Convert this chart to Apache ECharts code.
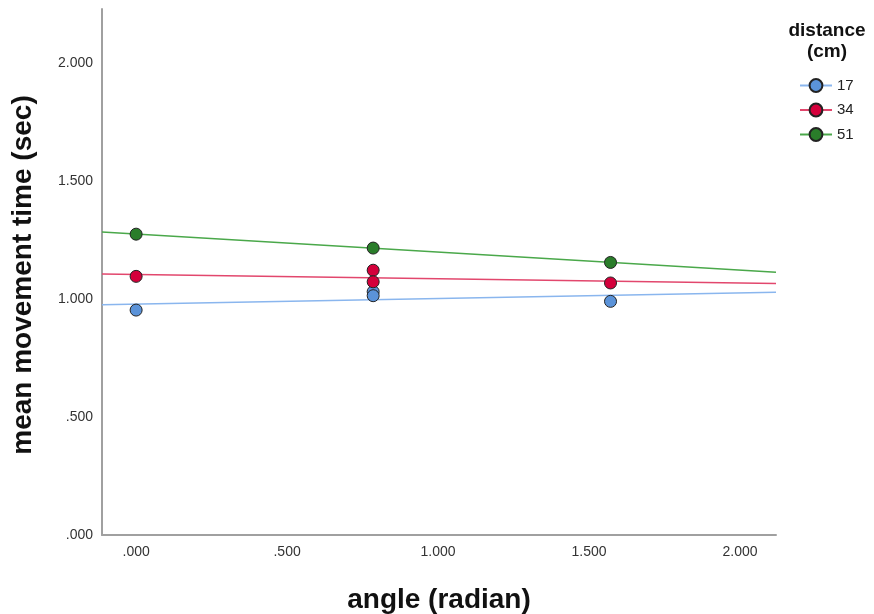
<!DOCTYPE html>
<html>
<head>
<meta charset="utf-8">
<script src="https://cdn.jsdelivr.net/npm/echarts@6/dist/echarts.min.js"></script>
<style>
  html, body { margin: 0; padding: 0; background: #fff; }
  #chart { width: 874px; height: 614px; }
</style>
</head>
<body>
<div id="chart"></div>
<script>
// Mean movement time by angle, one group per target distance
const distances = ['17', '34', '51'];
const angle17 = [0, 0.785, 0.785, 1.571];
const time17  = [0.954, 1.032, 1.015, 0.991];
const angle34 = [0, 0.785, 0.785, 1.571];
const time34  = [1.097, 1.123, 1.074, 1.069];
const angle51 = [0, 0.785, 1.571];
const time51  = [1.276, 1.217, 1.156];

const xTicks = [0, 0.5, 1.0, 1.5, 2.0];
const yTicks = [0, 0.5, 1.0, 1.5, 2.0];
const xRange = [-0.113, 2.119];
const yRange = [0, 2.231];

const pointColors = ['#5b93d9', '#d4003b', '#2a7d2a'];
const lineColors  = ['#8ab6ee', '#e2476d', '#4aa84a'];

const groups = [
  { name: distances[0], x: angle17, y: time17 },
  { name: distances[1], x: angle34, y: time34 },
  { name: distances[2], x: angle51, y: time51 }
];

// Ordinary least-squares fit line over the visible angle range
function fitLine(xs, ys) {
  const n = xs.length;
  const mx = xs.reduce((a, b) => a + b, 0) / n;
  const my = ys.reduce((a, b) => a + b, 0) / n;
  let sxy = 0, sxx = 0;
  for (let i = 0; i < n; i++) {
    sxy += (xs[i] - mx) * (ys[i] - my);
    sxx += (xs[i] - mx) * (xs[i] - mx);
  }
  const b = sxy / sxx;
  const a = my - b * mx;
  return xRange.map(x => [x, a + b * x]);
}

const fmt = v => v.toFixed(3).replace(/^0/, '');
const FONT = 'Liberation Sans, Arial, sans-serif';

const series = [];
groups.forEach((g, i) => {
  series.push({
    name: g.name,
    type: 'line',
    data: fitLine(g.x, g.y),
    symbol: 'circle',
    symbolSize: 14,
    showSymbol: false,
    silent: true,
    z: 2,
    lineStyle: { color: lineColors[i], width: 1.4 },
    itemStyle: { color: pointColors[i], borderColor: '#222', borderWidth: 1 }
  });
});
groups.forEach((g, i) => {
  series.push({
    name: g.name,
    type: 'scatter',
    data: g.x.map((x, k) => [x, g.y[k]]),
    symbol: 'circle',
    symbolSize: 12,
    z: 3,
    itemStyle: { color: pointColors[i], borderColor: '#222', borderWidth: 1, opacity: 1 }
  });
});

const chart = echarts.init(document.getElementById('chart'), null, { renderer: 'canvas' });
chart.setOption({
  animation: false,
  backgroundColor: '#ffffff',
  graphic: [{
    type: 'text',
    x: 827,
    y: 20,
    style: {
      text: 'distance\n(cm)',
      textAlign: 'center',
      fontFamily: FONT,
      fontSize: 19,
      fontWeight: 'bold',
      lineHeight: 21,
      fill: '#111'
    }
  }],
  legend: {
    data: distances,
    orient: 'vertical',
    left: 794,
    top: 73,
    itemWidth: 32,
    itemHeight: 16,
    itemGap: 9.5,
    textStyle: { fontFamily: FONT, fontSize: 15, color: '#222' }
  },
  grid: { left: 102, right: 98, top: 9, bottom: 79, containLabel: false, outerBoundsMode: 'none' },
  xAxis: {
    type: 'value',
    min: xRange[0],
    max: xRange[1],
    name: 'angle (radian)',
    nameLocation: 'middle',
    nameGap: 51,
    nameTextStyle: { fontFamily: FONT, fontSize: 28, fontWeight: 'bold', color: '#111' },
    axisLine: { show: true, onZero: false, lineStyle: { color: '#a0a0a0', width: 2 } },
    axisTick: { show: false },
    splitLine: { show: false },
    axisLabel: {
      customValues: xTicks,
      formatter: fmt,
      margin: 10,
      fontFamily: FONT,
      fontSize: 14,
      color: '#333'
    }
  },
  yAxis: {
    type: 'value',
    min: yRange[0],
    max: yRange[1],
    name: 'mean movement time (sec)',
    nameLocation: 'middle',
    nameGap: 65,
    nameTextStyle: { fontFamily: FONT, fontSize: 28, fontWeight: 'bold', color: '#111', padding: [0, 6, 0, 0] },
    axisLine: { show: true, onZero: false, lineStyle: { color: '#a0a0a0', width: 2 } },
    axisTick: { show: false },
    splitLine: { show: false },
    axisLabel: {
      customValues: yTicks,
      formatter: fmt,
      margin: 9,
      padding: [3, 0, 0, 0],
      fontFamily: FONT,
      fontSize: 14,
      color: '#333'
    }
  },
  series: series
});
</script>
</body>
</html>
